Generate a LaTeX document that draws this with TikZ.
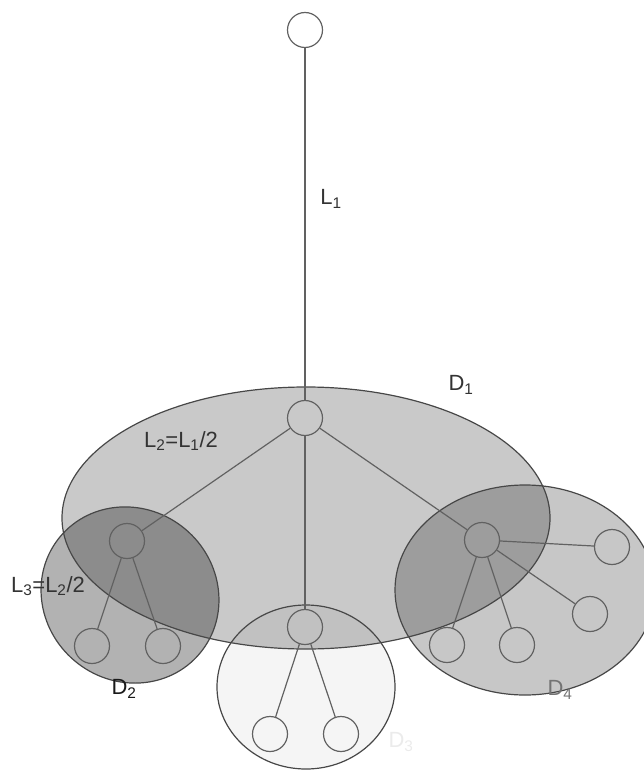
\documentclass[tikz,border=0pt]{standalone}
\usepackage{fontspec}
\setmainfont{Liberation Sans}
\begin{document}
\begin{tikzpicture}[x=1pt,y=-1pt,
  nd/.style={circle,draw=black!62,line width=1.2pt,minimum size=35pt,inner sep=0pt},
  edge/.style={draw=black!62,line width=1.2pt},
  zone/.style={draw=black!72,line width=1.2pt},
  lbl/.style={font=\fontsize{22}{24}\selectfont,text=black!80,inner sep=0pt}]
\useasboundingbox (0,0) rectangle (643,770);
% zones
\fill[black,fill opacity=0.04] (306,687) ellipse [x radius=89pt,y radius=82pt];
\fill[black,fill opacity=0.21] (306,518) ellipse [x radius=244pt,y radius=131pt];
\fill[black,fill opacity=0.30,rotate around={-40:(130,595)}] (130,595) ellipse [x radius=91pt,y radius=86pt];
\fill[black,fill opacity=0.22] (525,590) ellipse [x radius=130pt,y radius=105pt];
\draw[zone] (306,687) ellipse [x radius=89pt,y radius=82pt];
\draw[zone] (306,518) ellipse [x radius=244pt,y radius=131pt];
\draw[zone,rotate around={-40:(130,595)}] (130,595) ellipse [x radius=91pt,y radius=86pt];
\draw[zone] (525,590) ellipse [x radius=130pt,y radius=105pt];
% nodes
\node[nd] (top) at (305,30) {};
\node[nd] (root) at (305,418) {};
\node[nd] (c2) at (127,541) {};
\node[nd] (c3) at (305,627) {};
\node[nd] (c4) at (482,540) {};
\node[nd] (l21) at (92,646) {};
\node[nd] (l22) at (163,646) {};
\node[nd] (l31) at (270,734) {};
\node[nd] (l32) at (341,734) {};
\node[nd] (l41) at (447,645) {};
\node[nd] (l42) at (517,645) {};
\node[nd] (l43) at (590,614) {};
\node[nd] (l44) at (612,547) {};
% edges
\draw[edge] (top) -- (root);
\draw[edge] (root) -- (c2);
\draw[edge] (root) -- (c3);
\draw[edge] (root) -- (c4);
\draw[edge] (c2) -- (l21);
\draw[edge] (c2) -- (l22);
\draw[edge] (c3) -- (l31);
\draw[edge] (c3) -- (l32);
\draw[edge] (c4) -- (l41);
\draw[edge] (c4) -- (l42);
\draw[edge] (c4) -- (l43);
\draw[edge] (c4) -- (l44);
% labels
\node[lbl] (tL1) at (331,199) {L\textsubscript{1}};
\node[lbl] (tL2) at (181,441) {L\textsubscript{2}=L\textsubscript{1}/2};
\node[lbl] (tL3) at (48,586) {L\textsubscript{3}=L\textsubscript{2}/2};
\node[lbl] (tD1) at (461,385) {D\textsubscript{1}};
\node[lbl,text=black!90] (tD2) at (124,689) {D\textsubscript{2}};
\node[lbl,text=black!8] (tD3) at (401,742) {D\textsubscript{3}};
\node[lbl,text=black!55] (tD4) at (560,690) {D\textsubscript{4}};
\end{tikzpicture}
\end{document}
